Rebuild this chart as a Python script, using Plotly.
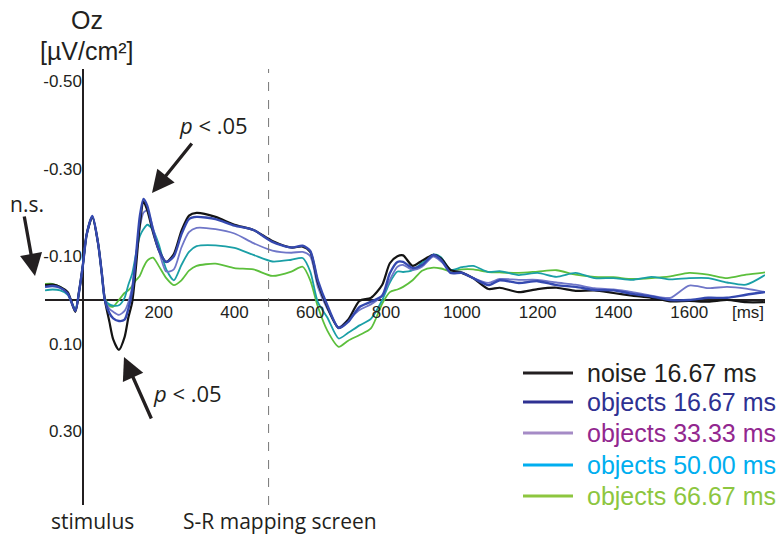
import plotly.graph_objects as go

# time (ms)
t = [-100, -80, -60, -40, -20, -10, 0, 10, 25, 40, 50, 58, 70, 80, 95, 110, 120, 130, 140, 150,
     160, 170, 185, 200, 220, 240, 260, 280, 300, 350, 400, 450, 500, 550, 580, 600, 620, 645, 675, 700,
     730, 760, 790, 810, 830, 845, 870, 895, 925, 945, 970, 1000, 1030, 1070, 1100, 1150, 1200, 1250, 1300, 1350,
     1400, 1450, 1500, 1550, 1600, 1650, 1700, 1750, 1800]

noise_1667 = [-0.034, -0.035, -0.030, -0.018, 0.027, -0.020, -0.080, -0.150, -0.190, -0.130, -0.060, 0.000, 0.050, 0.090, 0.114, 0.085, 0.040, 0.005, -0.075, -0.170,
              -0.225, -0.205, -0.155, -0.115, -0.087, -0.105, -0.158, -0.193, -0.199, -0.190, -0.172, -0.160, -0.135, -0.120, -0.122, -0.110, -0.040, 0.016, 0.064, 0.045,
              0.002, -0.005, -0.035, -0.084, -0.100, -0.102, -0.078, -0.090, -0.103, -0.095, -0.069, -0.062, -0.050, -0.025, -0.028, -0.018, -0.025, -0.028, -0.021, -0.022,
              -0.016, -0.010, -0.005, 0.003, 0.002, 0.004, 0.000, 0.005, 0.005]

objects_1667 = [-0.030, -0.032, -0.028, -0.015, 0.025, -0.020, -0.080, -0.150, -0.192, -0.130, -0.060, 0.000, 0.030, 0.042, 0.048, 0.045, 0.020, -0.020, -0.100, -0.190,
                -0.231, -0.215, -0.160, -0.115, -0.087, -0.100, -0.150, -0.185, -0.190, -0.185, -0.170, -0.160, -0.133, -0.120, -0.124, -0.112, -0.045, 0.012, 0.064, 0.050,
                0.016, 0.004, -0.010, -0.061, -0.087, -0.087, -0.073, -0.080, -0.103, -0.092, -0.062, -0.062, -0.050, -0.034, -0.045, -0.039, -0.043, -0.034, -0.030, -0.023,
                -0.022, -0.014, -0.008, 0.000, 0.000, -0.005, -0.005, -0.012, -0.018]

objects_3333 = [-0.032, -0.033, -0.028, -0.015, 0.025, -0.020, -0.080, -0.150, -0.190, -0.130, -0.060, 0.000, 0.020, 0.027, 0.034, 0.025, 0.005, -0.030, -0.100, -0.165,
                -0.200, -0.205, -0.165, -0.115, -0.065, -0.070, -0.120, -0.155, -0.165, -0.162, -0.152, -0.130, -0.113, -0.108, -0.110, -0.100, -0.030, 0.020, 0.062, 0.045,
                0.023, 0.010, -0.010, -0.046, -0.076, -0.080, -0.069, -0.076, -0.099, -0.088, -0.068, -0.064, -0.050, -0.039, -0.048, -0.046, -0.046, -0.040, -0.035, -0.027,
                -0.024, -0.018, -0.010, -0.005, -0.033, -0.027, -0.030, -0.026, -0.018]

objects_5000 = [-0.022, -0.024, -0.022, -0.012, 0.020, -0.020, -0.080, -0.150, -0.190, -0.130, -0.060, 0.000, 0.010, 0.013, 0.012, -0.005, -0.035, -0.060, -0.105, -0.145,
                -0.162, -0.172, -0.160, -0.128, -0.070, -0.045, -0.080, -0.110, -0.123, -0.125, -0.119, -0.103, -0.088, -0.092, -0.096, -0.065, 0.005, 0.040, 0.088, 0.075,
                0.058, 0.043, 0.000, -0.040, -0.065, -0.064, -0.068, -0.085, -0.104, -0.098, -0.069, -0.075, -0.078, -0.064, -0.066, -0.057, -0.062, -0.053, -0.062, -0.050,
                -0.050, -0.046, -0.053, -0.047, -0.050, -0.050, -0.040, -0.035, -0.057]

objects_6667 = [-0.037, -0.037, -0.030, -0.016, 0.025, -0.020, -0.080, -0.150, -0.190, -0.130, -0.060, -0.005, 0.013, 0.015, 0.000, -0.016, -0.022, -0.032, -0.045, -0.055,
                -0.075, -0.090, -0.097, -0.078, -0.050, -0.034, -0.045, -0.067, -0.078, -0.083, -0.073, -0.070, -0.055, -0.065, -0.076, -0.045, 0.015, 0.070, 0.107, 0.093,
                0.080, 0.065, 0.008, -0.018, -0.024, -0.030, -0.045, -0.067, -0.074, -0.072, -0.066, -0.070, -0.070, -0.064, -0.063, -0.062, -0.065, -0.068, -0.058, -0.053,
                -0.052, -0.048, -0.050, -0.054, -0.062, -0.058, -0.050, -0.058, -0.063]

y_tickvals = [-0.5, -0.3, -0.1, 0.1, 0.3]
y_ticktext = ["-0.50", "-0.30", "-0.10", "0.10", "0.30"]
x_tickvals = [200, 400, 600, 800, 1000, 1200, 1400, 1600, 1755]
x_ticktext = ["200", "400", "600", "800", "1000", "1200", "1400", "1600", "[ms]"]

legend_labels = ["noise 16.67 ms", "objects 16.67 ms", "objects 33.33 ms", "objects 50.00 ms", "objects 66.67 ms"]
legend_line_colors = ["#231f20", "#2e3192", "#a58bc6", "#00aeef", "#8dc63f"]
legend_text_colors = ["#231f20", "#2e3192", "#92278f", "#00aeef", "#8dc63f"]

W, H = 783, 534
L, R, T, B = 45, 765, 69, 505
def px(xp):
    return (xp - L) / (R - L)
def py(yp):
    return (B - yp) / (B - T)

fig = go.Figure()
series = [
    (objects_6667, "#5cbf3c", 1.8),
    (objects_5000, "#1a9fa6", 1.8),
    (objects_3333, "#6f76c8", 1.8),
    (noise_1667, "#141414", 2.2),
    (objects_1667, "#3549b0", 2.4),
]
for vals, col, w in series:
    assert len(vals) == len(t)
    fig.add_trace(go.Scatter(x=t, y=vals, mode="lines",
                             line=dict(color=col, width=w, shape="spline", smoothing=0.7),
                             showlegend=False, hoverinfo="skip"))

fig.update_layout(
    width=W, height=H,
    margin=dict(l=L, r=W - R, t=T, b=H - B),
    paper_bgcolor="white", plot_bgcolor="white",
    font=dict(family="Arial, Liberation Sans, sans-serif", color="#231f20"),
    xaxis=dict(range=[-100, 1800], showgrid=False, showline=False, ticks="",
               zeroline=True, zerolinecolor="#231f20", zerolinewidth=2,
               tickvals=x_tickvals, ticktext=x_ticktext, tickfont=dict(size=17),
               anchor="free", position=(B - 300) / (B - T)),
    yaxis=dict(range=[(B - 300) / 437.5, (T - 300) / 437.5], showgrid=False, showline=False,
               ticks="", zeroline=True, zerolinecolor="#231f20", zerolinewidth=1.6,
               tickvals=y_tickvals, ticktext=y_ticktext, tickfont=dict(size=17),
               anchor="free", position=px(82)),
)

fig.add_shape(type="line", xref="x", yref="paper", x0=490, x1=490, y0=0, y1=1,
              line=dict(color="#777777", width=1, dash="dash"))

ann = []
ann.append(dict(x=px(87), y=py(20), text="Oz", font=dict(size=25)))
ann.append(dict(x=px(87), y=py(51), text="[µV/cm²]", font=dict(size=25)))
ann.append(dict(x=px(92), y=py(521), text="stimulus", font=dict(size=21, family="Open Sans")))
ann.append(dict(x=px(280), y=py(521), text="S-R mapping screen", font=dict(size=21, family="Open Sans")))
ann.append(dict(x=px(213), y=py(125), text="<i>p</i> < .05", font=dict(size=22, family="Open Sans")))
ann.append(dict(x=px(187), y=py(393), text="<i>p</i> < .05", font=dict(size=22, family="Open Sans")))
ann.append(dict(x=px(27), y=py(204), text="n.s.", font=dict(size=21, family="Open Sans")))
for a in ann:
    a.update(xref="paper", yref="paper", showarrow=False, xanchor="center", yanchor="middle")
    fig.add_annotation(**a)

arrows = [((193, 142), (152, 193)), ((152, 420), (124, 357)), ((24, 215), (35, 276))]
for (tx, ty), (hx, hy) in arrows:
    fig.add_annotation(xref="paper", yref="paper", x=px(hx), y=py(hy), ax=tx - hx, ay=ty - hy,
                       text="", showarrow=True, arrowhead=2, arrowsize=1.35, arrowwidth=3.3,
                       arrowcolor="#231f20", standoff=0)

# manual legend
ys = [373, 402, 433, 465, 496]
for lab, lc, tc, yy in zip(legend_labels, legend_line_colors, legend_text_colors, ys):
    fig.add_shape(type="line", xref="paper", yref="paper", x0=px(523), x1=px(573), y0=py(yy), y1=py(yy),
                  line=dict(color=lc, width=3))
    fig.add_annotation(xref="paper", yref="paper", x=px(585), y=py(yy), text=lab, showarrow=False,
                       xanchor="left", yanchor="middle", font=dict(size=25, color=tc))

fig.write_html("out.html")
